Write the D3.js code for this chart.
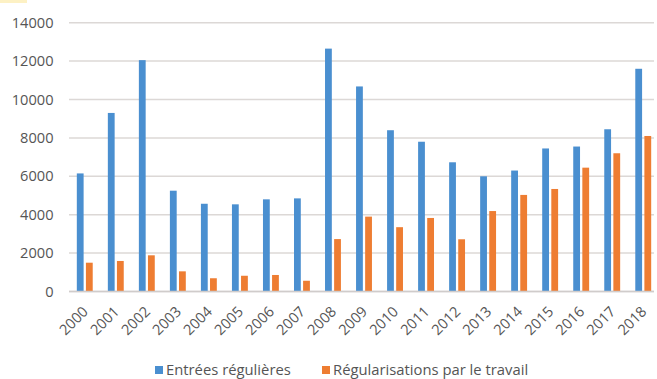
<!DOCTYPE html>
<html><head><meta charset="utf-8">
<script src="https://cdn.jsdelivr.net/npm/d3@7"></script>
<style>body{margin:0;background:#fff;}svg{display:block;}</style>
</head><body>
<svg id="c" width="657" height="379"></svg>
<script>
const years = ["2000","2001","2002","2003","2004","2005","2006","2007","2008","2009","2010","2011","2012","2013","2014","2015","2016","2017","2018"];
const entrees = [6150,9300,12050,5250,4570,4540,4800,4850,12650,10680,8400,7800,6730,6000,6300,7450,7550,8450,11600];
const regularisations = [1500,1590,1885,1050,690,820,860,560,2730,3900,3350,3830,2720,4190,5030,5340,6450,7200,8100];
const yTicks = [0,2000,4000,6000,8000,10000,12000,14000];
const seriesNames = ["Entrées régulières","Régularisations par le travail"];
const colors = ["#4A8FD0","#EE7D32"];

const svg = d3.select("#c");
const font = "'Open Sans', sans-serif";
const gridL = 69, gridR = 654;
const x = d3.scaleBand().domain(years).range([69.5, 659]).paddingInner(0).paddingOuter(0);
const y = d3.scaleLinear().domain([0,14000]).range([291.5, 22.7]);

svg.append("rect").attr("x",0).attr("y",0).attr("width",27).attr("height",3).attr("fill","#fdf1c4");

// gridlines
svg.append("g").selectAll("line").data(yTicks).join("line")
  .attr("x1", gridL).attr("x2", gridR)
  .attr("y1", d => y(d)).attr("y2", d => y(d))
  .attr("stroke", "#dcd8d6").attr("stroke-width", 1.5);

// y axis labels
const yAxis = d3.axisLeft(y).tickValues(yTicks).tickSize(0).tickPadding(0).tickFormat(d3.format("d"));
const ya = svg.append("g").attr("transform", `translate(53.5,0)`).call(yAxis);
ya.select(".domain").remove();
ya.selectAll("text").attr("font-family", font).attr("font-size", 14.6).attr("fill", "#555");

const bw = 6.8;
const groups = svg.append("g").selectAll("g").data(years).join("g")
  .attr("transform", d => `translate(${x(d)},0)`);
const cx = x.bandwidth()/2;
groups.append("rect")
  .attr("x", cx - 8.2).attr("width", bw)
  .attr("y", (d,i) => y(entrees[i])).attr("height", (d,i) => y(0) - y(entrees[i]))
  .attr("fill", colors[0]);
groups.append("rect")
  .attr("x", cx + 0.9).attr("width", bw)
  .attr("y", (d,i) => y(regularisations[i])).attr("height", (d,i) => y(0) - y(regularisations[i]))
  .attr("fill", colors[1]);

// baseline
svg.append("line").attr("x1", gridL).attr("x2", gridR).attr("y1", y(0)).attr("y2", y(0))
  .attr("stroke", "#d0cccb").attr("stroke-width", 1.5);

// x axis
const xAxis = d3.axisBottom(x).tickSize(0).tickPadding(0);
const xa = svg.append("g").attr("transform", `translate(0,${y(0)})`).call(xAxis);
xa.select(".domain").remove();
xa.selectAll("text")
  .attr("font-family", font).attr("font-size", 14.6).attr("fill", "#555")
  .attr("text-anchor", "end").attr("dy", 0).attr("y", 0)
  .attr("transform", "translate(4,21) rotate(-45)");

// legend
const leg = svg.append("g");
const lx = [155, 322];
seriesNames.forEach((n,i) => {
  leg.append("rect").attr("x", lx[i]).attr("y", 366).attr("width", 8).attr("height", 8).attr("fill", colors[i]);
  leg.append("text").attr("x", lx[i] + 11).attr("y", 375).text(n)
    .attr("font-family", font).attr("font-size", 14.8).attr("fill", "#555");
});
</script>
</body></html>
